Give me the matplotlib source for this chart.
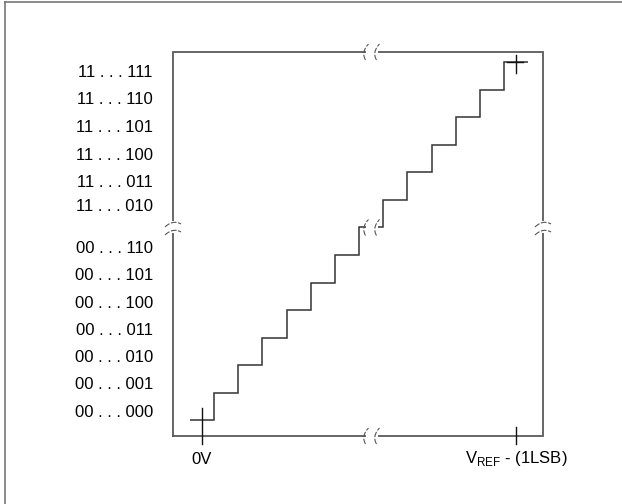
import matplotlib.pyplot as plt
import numpy as np
from matplotlib.lines import Line2D

plt.rcParams['font.family'] = ['Liberation Sans', 'DejaVu Sans']
plt.rcParams['mathtext.fontset'] = 'custom'
plt.rcParams['mathtext.rm'] = 'Liberation Sans'

# transfer function: one output code per LSB of input
step_codes = [0, 1, 2, 3, 4, 5, 6, 7, 8, 9, 10, 11, 12, 13]
break_code = 7

lower_labels = ['00 . . . 000', '00 . . . 001', '00 . . . 010', '00 . . . 011',
                '00 . . . 100', '00 . . . 101', '00 . . . 110']
lower_pos = [0.29, 1.31, 2.29, 3.27, 4.25, 5.24, 6.22]
upper_labels = ['11 . . . 010', '11 . . . 011', '11 . . . 100', '11 . . . 101',
                '11 . . . 110', '11 . . . 111']
upper_pos = [7.75, 8.62, 9.6, 10.62, 11.64, 12.62]

x_ticks = [0, 13]
x_ticklabels = ['0V', r'V$_{\mathrm{REF}}$ - (1LSB)']

W, H = 622, 504
fig = plt.figure(figsize=(W / 100, H / 100), dpi=100)
ax = fig.add_axes([173 / W, 1 - 436 / H, 370 / W, 384 / H])
x0, x1 = -1.2, 14.11
y0, y1 = -0.58, 13.38
ax.set_xlim(x0, x1)
ax.set_ylim(y0, y1)
ax.axis('off')
sx = (x1 - x0) / 370.0   # data units per pixel
sy = (y1 - y0) / 384.0

box_c = '#5a5a5a'
# frame of the plot
ax.plot([x0, x1, x1, x0, x0], [y0, y0, y1, y1, y0], color=box_c, lw=1.3,
        clip_on=False, solid_joinstyle='miter', zorder=2)

# staircase
edges = np.arange(len(step_codes) + 1) - 0.5
ax.stairs(step_codes, edges, baseline=None, color='#333333', lw=1.1, zorder=3)

# ticks / crosses
tk = dict(color='#111111', lw=1.0, clip_on=False, zorder=4)
ax.plot([0, 0], [0.44, -0.87], **tk)
ax.plot([13, 13], [-0.25, -0.87], **tk)
ax.plot([13, 13], [13.27, 12.62], **tk)
ax.plot([12.6, 13.3], [13, 13], **tk)


def hbreak(xc, yc):
    # break in a horizontal line: white gap then two "(" marks
    ax.plot([xc - 6 * sx, xc + 6 * sx], [yc, yc], color='white', lw=4,
            solid_capstyle='butt', clip_on=False, zorder=5)
    t = np.linspace(-1, 1, 30)
    for off in (-8, 3):
        ax.plot(xc + (off + 1.5 * t + 3 * t ** 2) * sx, yc + 8 * t * sy,
                color='#555555', lw=0.8, ls=(0, (5, 1.5)), clip_on=False, zorder=6)


def vbreak(xc, yc):
    # break in a vertical line: white gap then two sideways marks
    ax.plot([xc, xc], [yc - 6 * sy, yc + 6 * sy], color='white', lw=4,
            solid_capstyle='butt', clip_on=False, zorder=5)
    t = np.linspace(-1, 1, 30)
    for off in (5, -3):
        ax.plot(xc + 8 * t * sx, yc + (off - 3 * t ** 2 + 1.5 * t) * sy,
                color='#555555', lw=0.8, ls=(0, (5, 1.5)), clip_on=False, zorder=6)


xb = (372 - 202) * sx
yb = break_code
hbreak(xb, y1)
hbreak(xb, y0)
hbreak(xb, yb)
vbreak(x0, yb)
vbreak(x1, yb)

# code labels
for lab, p in zip(lower_labels + upper_labels, lower_pos + upper_pos):
    ax.text(x0 - 20 * sx, p, lab, ha='right', va='center', fontsize=12,
            color='black')

# input labels
for xt, lab in zip(x_ticks, x_ticklabels):
    ax.text(xt, y0 - 23 * sy, lab, ha='center', va='center', fontsize=12,
            color='black')

# outer frame (only left and top visible)
fig.add_artist(Line2D([5 / W, 5 / W], [0, 1 - 2 / H], color='#777777', lw=1.2))
fig.add_artist(Line2D([5 / W, 1], [1 - 2 / H, 1 - 2 / H], color='#777777', lw=1.2))

fig.savefig('out.png', dpi=100)
